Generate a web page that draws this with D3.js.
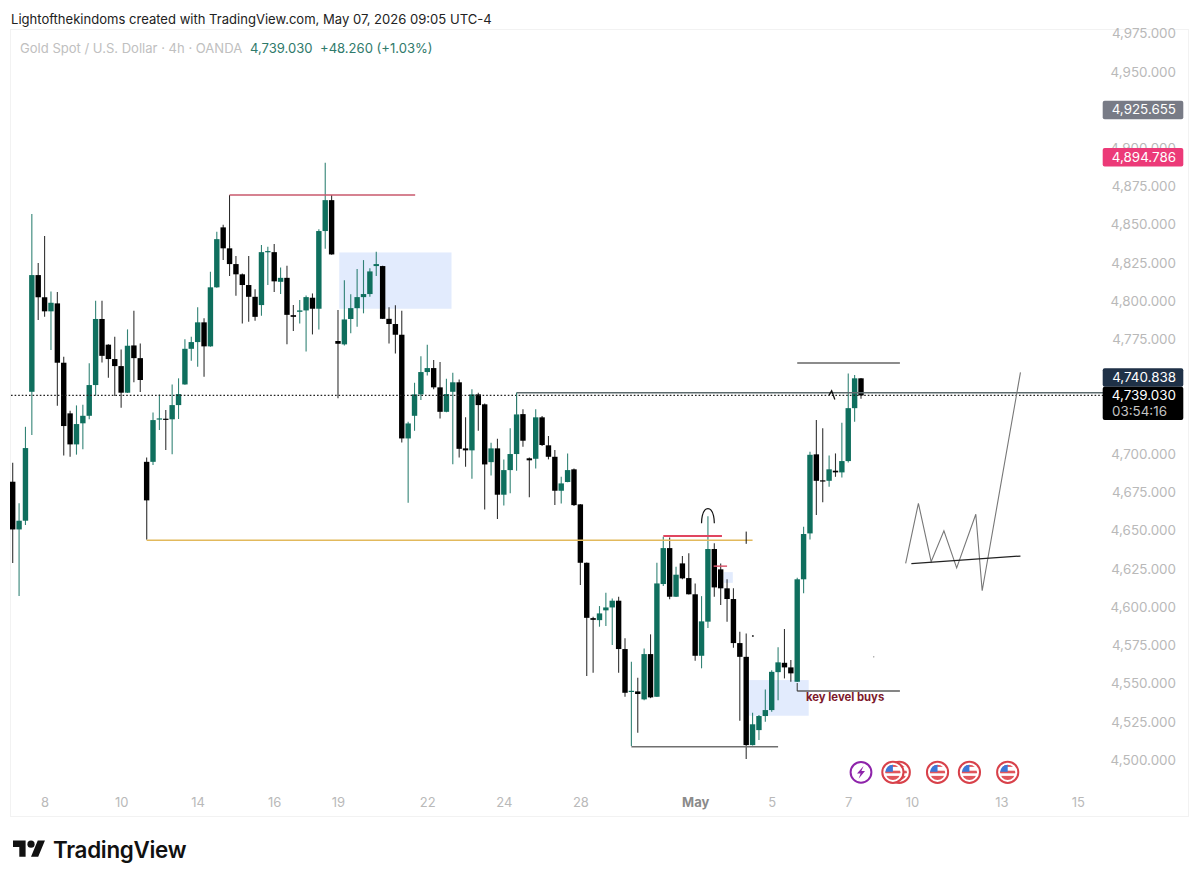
<!DOCTYPE html>
<html>
<head>
<meta charset="utf-8">
<script src="https://cdn.jsdelivr.net/npm/d3@7"></script>
<style>
  html, body { margin: 0; padding: 0; background: #fff; }
  svg { display: block; }
  text { font-family: Inter, "Noto Sans", sans-serif; }
</style>
</head>
<body>
<svg width="1200" height="882"></svg>
<script>
// 4h gold candles
var opens = [
  4682.6,4651.4,4657.1,4741.4,4817.7,4803.2,4794.0,4799.2,4760.4,4727.3,
  4707.0,4720.8,4725.7,4745.8,4789.0,4772.2,4762.8,4758.2,4740.8,4771.7,
  4763.4,4695.6,4695.6,4723.4,4723.8,4723.4,4732.7,4746.2,4769.5,4773.9,
  4786.8,4771.1,4809.7,4848.9,4835.2,4824.9,4818.2,4811.2,4803.5,4798.1,
  4832.9,4832.7,4813.3,4815.9,4791.5,4793.7,4794.6,4802.9,4795.7,4846.5,
  4866.7,4774.6,4772.4,4789.0,4796.1,4803.3,4805.3,4823.6,4823.6,4789.1,
  4785.7,4778.7,4710.9,4725.7,4739.7,4754.3,4756.9,4744.3,4728.3,4741.4,
  4747.6,4704.4,4703.1,4739.7,4733.2,4695.4,4704.4,4674.1,4690.2,4700.7,
  4726.8,4697.9,4697.6,4724.7,4706.4,4698.9,4676.7,4682.4,4690.7,4667.8,
  4629.6,4593.4,4592.1,4598.5,4600.4,4604.8,4573.2,4545.5,4545.5,4540.3,
  4569.9,4542.0,4615.7,4639.2,4607.4,4629.2,4619.6,4609.0,4568.8,4591.1,
  4638.6,4625.3,4612.9,4605.9,4577.1,4568.1,4510.4,4520.2,4529.4,4533.3,
  4558.1,4564.2,4561.2,4551.8,4618.8,4648.8,4700.5,4683.5,4683.2,4689.8,
  4688.7,4696.1,4730.7,4750.2
];
var highs = [
  4695.0,4668.6,4718.5,4857.6,4825.6,4843.2,4807.0,4806.6,4764.3,4729.0,
  4732.5,4733.0,4760.0,4800.9,4800.9,4772.4,4777.4,4769.1,4782.2,4794.4,
  4773.0,4698.5,4727.9,4739.7,4729.5,4746.2,4750.2,4775.7,4777.4,4796.6,
  4789.4,4819.9,4846.0,4850.6,4836.7,4830.1,4818.8,4830.1,4808.4,4837.3,
  4836.2,4838.0,4822.7,4823.8,4798.1,4801.4,4804.4,4805.7,4847.6,4891.1,
  4870.0,4794.8,4814.4,4805.1,4821.6,4827.5,4822.1,4832.9,4823.8,4796.6,
  4797.9,4794.4,4721.8,4747.3,4764.7,4772.2,4762.1,4760.8,4749.9,4753.8,
  4749.5,4724.7,4743.0,4740.8,4733.8,4708.1,4710.7,4697.2,4717.5,4740.4,
  4729.9,4698.5,4729.9,4725.5,4712.5,4703.3,4685.8,4701.1,4691.3,4668.0,
  4629.8,4594.3,4601.3,4610.0,4606.3,4607.4,4580.2,4564.9,4554.4,4573.6,
  4582.8,4629.6,4646.6,4646.2,4627.0,4634.0,4635.8,4616.1,4607.8,4660.1,
  4642.3,4629.2,4618.8,4612.9,4584.5,4583.4,4531.5,4530.0,4546.8,4559.4,
  4574.3,4586.3,4566.0,4619.8,4653.1,4702.2,4722.9,4717.5,4699.8,4701.1,
  4721.1,4753.4,4752.3,4750.4
];
var lows = [
  4629.4,4607.8,4654.3,4713.1,4788.3,4790.4,4768.7,4732.3,4699.8,4698.9,
  4700.3,4703.9,4723.4,4738.8,4760.6,4750.6,4738.6,4731.0,4740.6,4747.6,
  4741.2,4644.9,4693.5,4716.4,4703.3,4700.5,4723.6,4746.0,4761.7,4757.7,
  4751.2,4770.9,4809.5,4827.5,4817.1,4804.2,4786.1,4787.2,4787.8,4791.1,
  4811.2,4806.6,4805.3,4772.4,4781.1,4786.1,4767.8,4778.9,4782.2,4834.9,
  4831.0,4737.1,4771.7,4779.6,4783.9,4792.7,4803.5,4817.1,4789.0,4773.0,
  4766.5,4708.3,4668.8,4715.9,4736.0,4752.1,4743.0,4724.0,4728.1,4694.1,
  4698.5,4692.4,4684.5,4715.9,4664.5,4686.7,4658.2,4667.1,4675.0,4689.8,
  4705.4,4672.4,4691.3,4705.9,4697.2,4667.3,4668.4,4682.2,4666.7,4615.0,
  4555.5,4557.7,4587.8,4588.2,4575.8,4557.7,4542.0,4509.8,4518.5,4539.8,
  4541.1,4541.8,4614.4,4605.7,4607.2,4618.8,4608.8,4565.5,4560.6,4586.9,
  4607.4,4602.0,4591.1,4574.0,4526.3,4501.3,4510.2,4513.7,4525.6,4532.2,
  4539.8,4554.0,4551.8,4551.6,4609.6,4644.9,4660.8,4669.1,4679.3,4685.8,
  4685.4,4695.2,4721.8,4736.9
];
var closes = [
  4651.4,4657.1,4704.6,4817.7,4803.2,4794.0,4799.6,4760.4,4719.0,4707.0,
  4720.3,4725.7,4745.8,4789.0,4764.9,4762.8,4758.2,4740.8,4771.5,4763.4,
  4749.1,4670.4,4722.9,4724.0,4723.4,4732.7,4739.9,4769.5,4773.9,4786.8,
  4771.1,4809.7,4841.2,4835.2,4824.9,4818.2,4811.2,4803.5,4790.4,4832.7,
  4833.4,4813.6,4815.9,4791.7,4790.4,4794.6,4803.3,4795.7,4846.5,4866.7,
  4831.2,4772.8,4788.7,4796.1,4803.3,4805.3,4820.1,4824.9,4789.1,4785.7,
  4778.7,4710.9,4720.7,4739.7,4754.3,4756.9,4744.3,4728.3,4739.9,4747.6,
  4704.1,4703.1,4739.7,4732.7,4693.9,4704.4,4674.1,4690.2,4700.7,4726.6,
  4709.4,4696.6,4724.7,4706.6,4698.9,4676.7,4681.5,4690.2,4667.3,4629.6,
  4593.6,4592.3,4596.5,4600.4,4604.8,4573.2,4544.6,4545.9,4543.8,4569.9,
  4541.6,4616.1,4639.2,4607.4,4621.8,4619.4,4609.0,4568.8,4591.3,4638.6,
  4613.5,4612.9,4605.9,4577.1,4568.1,4510.4,4524.0,4529.4,4533.3,4558.3,
  4564.5,4561.2,4557.3,4618.8,4648.4,4700.2,4683.2,4682.8,4690.7,4688.7,
  4696.1,4730.7,4750.2,4739.03
];

// 4,925 4,750 and 4,725 sit behind the price badges, so they aren't listed
var priceTicks = [4975,4950,4900,4875,4850,4825,4800,4775,4700,4675,4650,4625,4600,4575,4550,4525,4500];
var dayBars = [5,17,29,41,51,65,77,89,107,119,131,141,155,167];
var dayLabels = ['8','10','14','16','19','22','24','28','May','5','7','10','13','15'];

var lastPrice = 4739.03;
var levelPrice = 4740.838;
var pricePink = 4894.786;
var priceGrey = 4925.655;

// drawings as [bar, price] pairs
var zigzagBars = [140,142,144,146,148,151,152,158];
var zigzagPrices = [4629.2,4668.5,4630.3,4650.5,4626.3,4661.3,4611.3,4754.1];
var neckBars = [140.9,158];
var neckPrices = [4629.0,4634.0];
var arcBars = [108,108.05,108.5,109,109.5,109.95,110];
var arcPrices = [4655.4,4660.5,4664.6,4665.2,4664.6,4660.5,4655.4];
var cursorBars = [128,128.4,128.9];
var cursorPrices = [4739.2,4742.1,4736.4];
var eventBars = [138,139,145,150,156];
var boltBar = 133;

var svg = d3.select('svg');
var green = '#0f6f5e';
var bodyW = 5.4;

var x = d3.scaleLinear().domain([0, 133]).range([12.7, 861]);
var y = d3.scaleLinear().domain([4500, 4975]).range([761, 34.5]);

function hline(price, b0, b1, color, width) {
    return svg.append('line')
        .attr('x1', b0 === null ? 11 : x(b0)).attr('x2', b1 === null ? 1103 : x(b1))
        .attr('y1', y(price)).attr('y2', y(price))
        .attr('stroke', color).attr('stroke-width', width);
}
function vline(bar, p0, p1, color, width) {
    svg.append('line')
        .attr('x1', x(bar)).attr('x2', x(bar))
        .attr('y1', y(p0)).attr('y2', y(p1))
        .attr('stroke', color).attr('stroke-width', width);
}
function zone(b0, b1, p0, p1) {
    svg.append('rect')
        .attr('x', x(b0)).attr('width', x(b1) - x(b0))
        .attr('y', y(p0)).attr('height', y(p1) - y(p0))
        .attr('fill', '#e2ebfd');
}

// pane frame
svg.append('rect').attr('x', 10.5).attr('y', 29.5).attr('width', 1178).attr('height', 787)
    .attr('fill', '#fff').attr('stroke', '#f2f2f2');

// zones go under the candles
zone(51.2, 68.8, 4832.5, 4795.7);
zone(115.4, 124.8, 4552.9, 4529.6);
zone(111.5, 112.9, 4623.5, 4616.5);

// candles
var bars = d3.range(opens.length);
svg.append('g').selectAll('line').data(bars).enter().append('line')
    .attr('x1', function(i) { return x(i); })
    .attr('x2', function(i) { return x(i); })
    .attr('y1', function(i) { return y(highs[i]); })
    .attr('y2', function(i) { return y(lows[i]); })
    .attr('stroke', function(i) { return closes[i] >= opens[i] ? green : '#111'; })
    .attr('stroke-opacity', 0.85)
    .attr('stroke-width', 1.1);

svg.append('g').selectAll('rect').data(bars).enter().append('rect')
    .attr('x', function(i) { return x(i) - bodyW / 2; })
    .attr('width', bodyW)
    .attr('y', function(i) { return y(Math.max(opens[i], closes[i])); })
    .attr('height', function(i) { return Math.max(1.2, Math.abs(y(opens[i]) - y(closes[i]))); })
    .attr('fill', function(i) { return closes[i] >= opens[i] ? green : '#000'; });

// last price + drawings
hline(lastPrice, null, null, '#222', 1.2).attr('stroke-dasharray', '1.6 2');
hline(levelPrice, 79, null, '#5d6b6d', 1.5);
vline(79, levelPrice, 4726, '#2f7a6b', 1);

vline(34, 4870, 4836, '#222', 1);
hline(4870, 34, 63.1, '#c8596c', 1.5);
hline(4644.4, 21, 116, '#e2b95c', 1.5);
vline(21, 4645, 4670, '#555', 1);
hline(4647.1, 102, 111.2, '#e0455f', 2);
hline(4627.4, 109.9, 112, '#d9576c', 1.5);
vline(115, 4650, 4642, '#111', 1);
hline(4509.3, 97, 120, '#6f6f6f', 1.5);
hline(4760.2, 123, 139.1, '#666', 1.5);
hline(4545.7, 123, 139.1, '#5c5c5c', 1.5);
vline(123, 4551, 4545.7, '#333', 1);

var drawLine = d3.line()
    .x(function(d) { return x(d[0]); })
    .y(function(d) { return y(d[1]); });

svg.append('path').datum(d3.zip(zigzagBars, zigzagPrices)).attr('d', drawLine)
    .attr('fill', 'none').attr('stroke', '#777').attr('stroke-width', 1.1);
svg.append('path').datum(d3.zip(neckBars, neckPrices)).attr('d', drawLine)
    .attr('fill', 'none').attr('stroke', '#222').attr('stroke-width', 1.3);

// small cursor mark
svg.append('path').datum(d3.zip(cursorBars, cursorPrices)).attr('d', drawLine)
    .attr('fill', 'none').attr('stroke', '#111').attr('stroke-width', 1.3);

// arc over the May 1 high
svg.append('path').datum(d3.zip(arcBars, arcPrices))
    .attr('d', d3.line().curve(d3.curveBasis)
        .x(function(d) { return x(d[0]); })
        .y(function(d) { return y(d[1]); }))
    .attr('fill', 'none').attr('stroke', '#111').attr('stroke-width', 1.2);

svg.append('circle').attr('cx', x(116.05)).attr('cy', y(4581.8)).attr('r', 1).attr('fill', '#333');
svg.append('circle').attr('cx', x(135)).attr('cy', y(4568.1)).attr('r', 0.7).attr('fill', '#777');

svg.append('text').attr('x', 806).attr('y', y(4545.7) + 10)
    .attr('font-size', 11.3).attr('font-weight', 700).attr('fill', '#7d1a2c')
    .text('key level buys');

// axes
var yAxis = d3.axisRight(y).tickValues(priceTicks).tickSize(0).tickFormat(d3.format(',.3f'));
var yG = svg.append('g').attr('transform', 'translate(1103,0)').call(yAxis);
yG.select('.domain').remove();
yG.selectAll('text')
    .attr('x', 73).attr('dy', '0.32em').attr('text-anchor', 'end')
    .attr('transform', 'translate(0,-1)')
    .attr('fill', '#b9b9b9').attr('font-size', 13.4);

var xAxis = d3.axisBottom(x).tickValues(dayBars).tickSize(0)
    .tickFormat(function(d, i) { return dayLabels[i]; });
var xG = svg.append('g').attr('transform', 'translate(0,795)').call(xAxis);
xG.select('.domain').remove();
xG.selectAll('text')
    .attr('y', 0).attr('dy', '0.9em')
    .attr('fill', function(d, i) { return dayLabels[i] === 'May' ? '#8a8a8a' : '#b9b9b9'; })
    .attr('font-weight', function(d, i) { return dayLabels[i] === 'May' ? 700 : 400; })
    .attr('font-size', 13);

// price badges
function badge(top, h, fill, label) {
    svg.append('rect').attr('x', 1102.7).attr('y', top).attr('width', 80.6).attr('height', h)
        .attr('rx', 2).attr('fill', fill);
    svg.append('text').attr('x', 1176).attr('y', top + 13.6).attr('text-anchor', 'end')
        .attr('font-size', 13.4).attr('fill', '#fff').text(label);
}
var fmt = d3.format(',.3f');
badge(y(priceGrey) - 9.2, 18.4, '#787b86', fmt(priceGrey));
badge(y(pricePink) - 9.2, 18.4, '#ec3a78', fmt(pricePink));
badge(368.3, 18.4, '#1f3147', fmt(levelPrice));
badge(386.7, 33.3, '#000', fmt(lastPrice));
svg.append('text').attr('x', 1112).attr('y', 415.5).attr('font-size', 13.4)
    .attr('fill', '#c4c4c4').text('03:54:16');

// event icons
var defs = svg.append('defs');
defs.append('clipPath').attr('id', 'flagClip').append('circle').attr('r', 7.6);

var flags = svg.append('g').selectAll('g').data(eventBars.slice().reverse()).enter().append('g')
    .attr('transform', function(b) { return 'translate(' + x(b) + ',772.3)'; });
flags.append('circle').attr('r', 10.6).attr('fill', '#fff').attr('stroke', '#d8414a').attr('stroke-width', 2);
var flagInner = flags.append('g').attr('clip-path', 'url(#flagClip)');
flagInner.append('rect').attr('x', -8).attr('y', -8).attr('width', 16).attr('height', 16).attr('fill', '#fff');
flagInner.append('rect').attr('x', -8).attr('y', -1.6).attr('width', 16).attr('height', 2.6).attr('fill', '#e0565c');
flagInner.append('rect').attr('x', -8).attr('y', 3.6).attr('width', 16).attr('height', 5).attr('fill', '#e0565c');
flagInner.append('rect').attr('x', -8).attr('y', -8).attr('width', 16).attr('height', 2.6).attr('fill', '#e0565c');
flagInner.append('rect').attr('x', -8).attr('y', -8).attr('width', 8).attr('height', 7.5).attr('fill', '#3c78d8');

var bolt = svg.append('g').attr('transform', 'translate(' + x(boltBar) + ',772.3)');
bolt.append('circle').attr('r', 10.4).attr('fill', '#fff').attr('stroke', '#8e24aa').attr('stroke-width', 2);
bolt.append('path').attr('d', 'M2.6,-6.4 L-4,1.2 L-0.4,1.2 L-2.4,6.4 L4,-1.4 L0.4,-1.4 Z').attr('fill', '#8e24aa');

// title + legend
svg.append('text').attr('x', 11).attr('y', 24).attr('font-size', 13.05).attr('fill', '#222')
    .text('Lightofthekindoms created with TradingView.com, May 07, 2026 09:05 UTC-4');
svg.append('text').attr('x', 20).attr('y', 53).attr('font-size', 13.05).attr('fill', '#c0c0c0')
    .text('Gold Spot / U.S. Dollar · 4h · OANDA');
svg.append('text').attr('x', 250).attr('y', 53).attr('font-size', 13.05).attr('fill', '#2f7a6b')
    .text('4,739.030');
svg.append('text').attr('x', 320).attr('y', 53).attr('font-size', 13.05).attr('fill', '#2f7a6b')
    .text('+48.260 (+1.03%)');

// logo
var logo = svg.append('g').attr('transform', 'translate(13,837) scale(0.9)').attr('fill', '#111');
logo.append('path').attr('d', 'M14 22H7V11H0V4h14v18zM28 22h-8l7.5-18h8L28 22z');
logo.append('circle').attr('cx', 20).attr('cy', 8).attr('r', 4);
svg.append('text').attr('x', 53).attr('y', 858).attr('font-size', 22.4).attr('font-weight', 600)
    .attr('fill', '#111').attr('letter-spacing', -0.3).text('TradingView');
</script>
</body>
</html>
